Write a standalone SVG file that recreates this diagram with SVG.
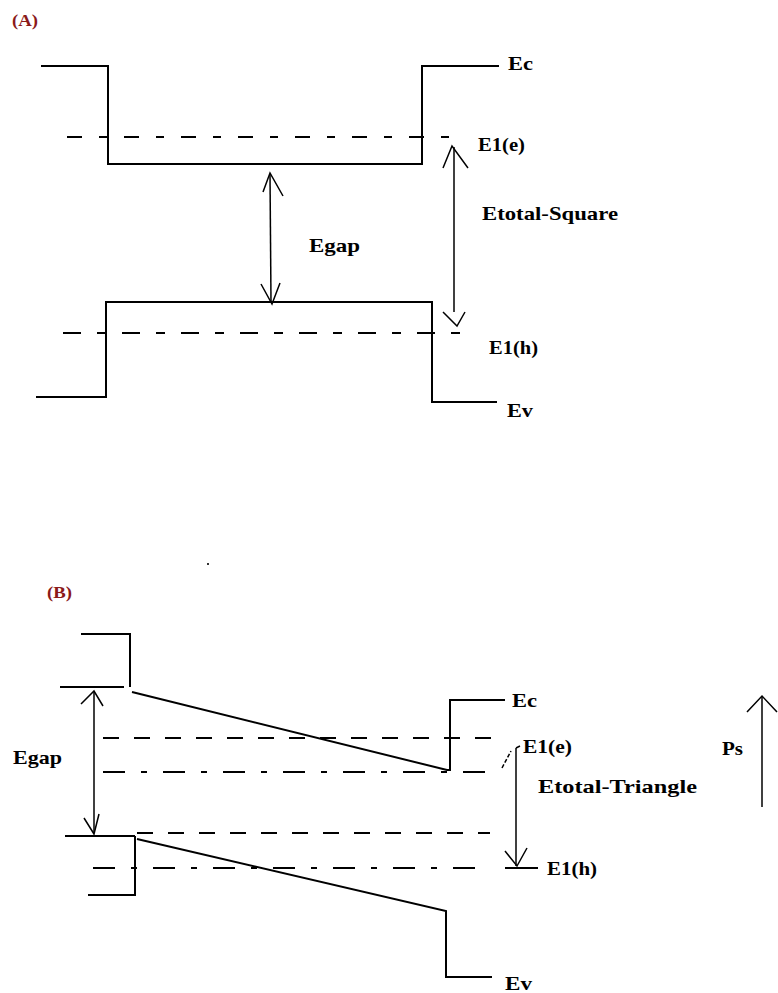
<svg xmlns="http://www.w3.org/2000/svg" width="778" height="993" viewBox="0 0 778 993">
<style>
.s{fill:none;stroke:#000;stroke-width:2}
.a{fill:none;stroke:#000;stroke-width:1.5}
.d1{fill:none;stroke:#000;stroke-width:2;stroke-dasharray:15 17 8 17}
.d2{fill:none;stroke:#000;stroke-width:2;stroke-dasharray:18 16 9 16}
.d3{fill:none;stroke:#000;stroke-width:2;stroke-dasharray:16 15}
.d4{fill:none;stroke:#000;stroke-width:2;stroke-dasharray:22 16 6 16}
.t{font-family:"Liberation Serif","Times New Roman",serif;font-weight:bold;font-size:19px;fill:#000}
.p{font-family:"Liberation Serif","Times New Roman",serif;font-weight:bold;font-size:17px;fill:#8b1a1a}
</style>
<rect width="778" height="993" fill="#fff"/>
<g id="panelA">
<text class="p" x="12" y="26" textLength="26" lengthAdjust="spacingAndGlyphs">(A)</text>
<g id="A-Ec">
<polyline class="s" points="41,66 108,66 108,164 422,164 422,66 499,66"/>
<text class="t" x="508" y="70" textLength="25" lengthAdjust="spacingAndGlyphs">Ec</text>
</g>
<g id="A-E1e">
<line class="d1" x1="67" y1="137" x2="460" y2="137"/>
<text class="t" x="478" y="151" textLength="47" lengthAdjust="spacingAndGlyphs">E1(e)</text>
</g>
<g id="A-Ev">
<polyline class="s" points="36,397 106,397 106,302 432,302 432,402 497,402"/>
<text class="t" x="507" y="417" textLength="26" lengthAdjust="spacingAndGlyphs">Ev</text>
</g>
<g id="A-E1h">
<line class="d2" x1="63" y1="333" x2="464" y2="333"/>
<text class="t" x="489" y="354" textLength="49" lengthAdjust="spacingAndGlyphs">E1(h)</text>
</g>
<g id="A-Egap">
<text class="t" x="309" y="252" textLength="51" lengthAdjust="spacingAndGlyphs">Egap</text>
</g>
<g id="A-Etotal">
<text class="t" x="482" y="220" textLength="136" lengthAdjust="spacingAndGlyphs">Etotal-Square</text>
</g>
</g>
<g id="connectorsA">
<line class="a" x1="270" y1="174" x2="271" y2="302"/>
<polyline class="a" points="263,192 270,173 283,196"/>
<polyline class="a" points="261,284 272,304 280,283"/>
<line class="a" x1="454" y1="147" x2="454" y2="312"/>
<polyline class="a" points="443,168 452,146 468,168"/>
<polyline class="a" points="443,312 457,326 465,312"/>
</g>
<rect x="207" y="563" width="2" height="2" fill="#333"/>
<g id="panelB">
<text class="p" x="47" y="598" textLength="25" lengthAdjust="spacingAndGlyphs">(B)</text>
<g id="B-Ec">
<polyline class="s" points="81,634 130,634 130,687"/>
<line class="s" x1="60" y1="687" x2="124" y2="687"/>
<polyline class="s" points="132,692 447,770 450,770 450,700 505,700"/>
<text class="t" x="512" y="707" textLength="25" lengthAdjust="spacingAndGlyphs">Ec</text>
</g>
<g id="B-E1e">
<line class="d3" x1="103" y1="738" x2="505" y2="738"/>
<line class="d4" x1="103" y1="772" x2="490" y2="772"/>
<text class="t" x="523" y="753" textLength="49" lengthAdjust="spacingAndGlyphs">E1(e)</text>
</g>
<g id="B-Ev">
<line class="s" x1="65" y1="836" x2="135" y2="836"/>
<polyline class="s" points="88,895 135,895 135,836"/>
<polyline class="s" points="137,839 446,911 446,977 492,977"/>
<text class="t" x="505" y="990" textLength="27" lengthAdjust="spacingAndGlyphs">Ev</text>
</g>
<g id="B-E1h">
<line class="d3" x1="137" y1="833" x2="490" y2="833"/>
<line class="d4" x1="93" y1="868" x2="490" y2="868"/>
<line class="s" x1="505" y1="868" x2="538" y2="868"/>
<text class="t" x="547" y="875" textLength="50" lengthAdjust="spacingAndGlyphs">E1(h)</text>
</g>
<g id="B-Egap">
<text class="t" x="13" y="764" textLength="49" lengthAdjust="spacingAndGlyphs">Egap</text>
</g>
<g id="B-Etotal">
<text class="t" x="538" y="793" textLength="159" lengthAdjust="spacingAndGlyphs">Etotal-Triangle</text>
</g>
<g id="B-Ps">
<text class="t" x="722" y="755" textLength="21" lengthAdjust="spacingAndGlyphs">Ps</text>
</g>
</g>
<g id="connectorsB">
<line class="a" x1="94" y1="692" x2="94" y2="833"/>
<polyline class="a" points="81,704 94,691 103,706"/>
<polyline class="a" points="84,818 94,834 99,814"/>
<line class="a" x1="516" y1="748" x2="516" y2="866"/>
<line class="a" x1="516" y1="748" x2="520" y2="746"/>
<line class="a" x1="502" y1="768" x2="511" y2="751" stroke-dasharray="4 2"/>
<polyline class="a" points="505,851 517,866 527,848"/>
<line class="a" x1="762" y1="696" x2="762" y2="807"/>
<polyline class="a" points="747,712 762,696 777,712"/>
</g>
</svg>
